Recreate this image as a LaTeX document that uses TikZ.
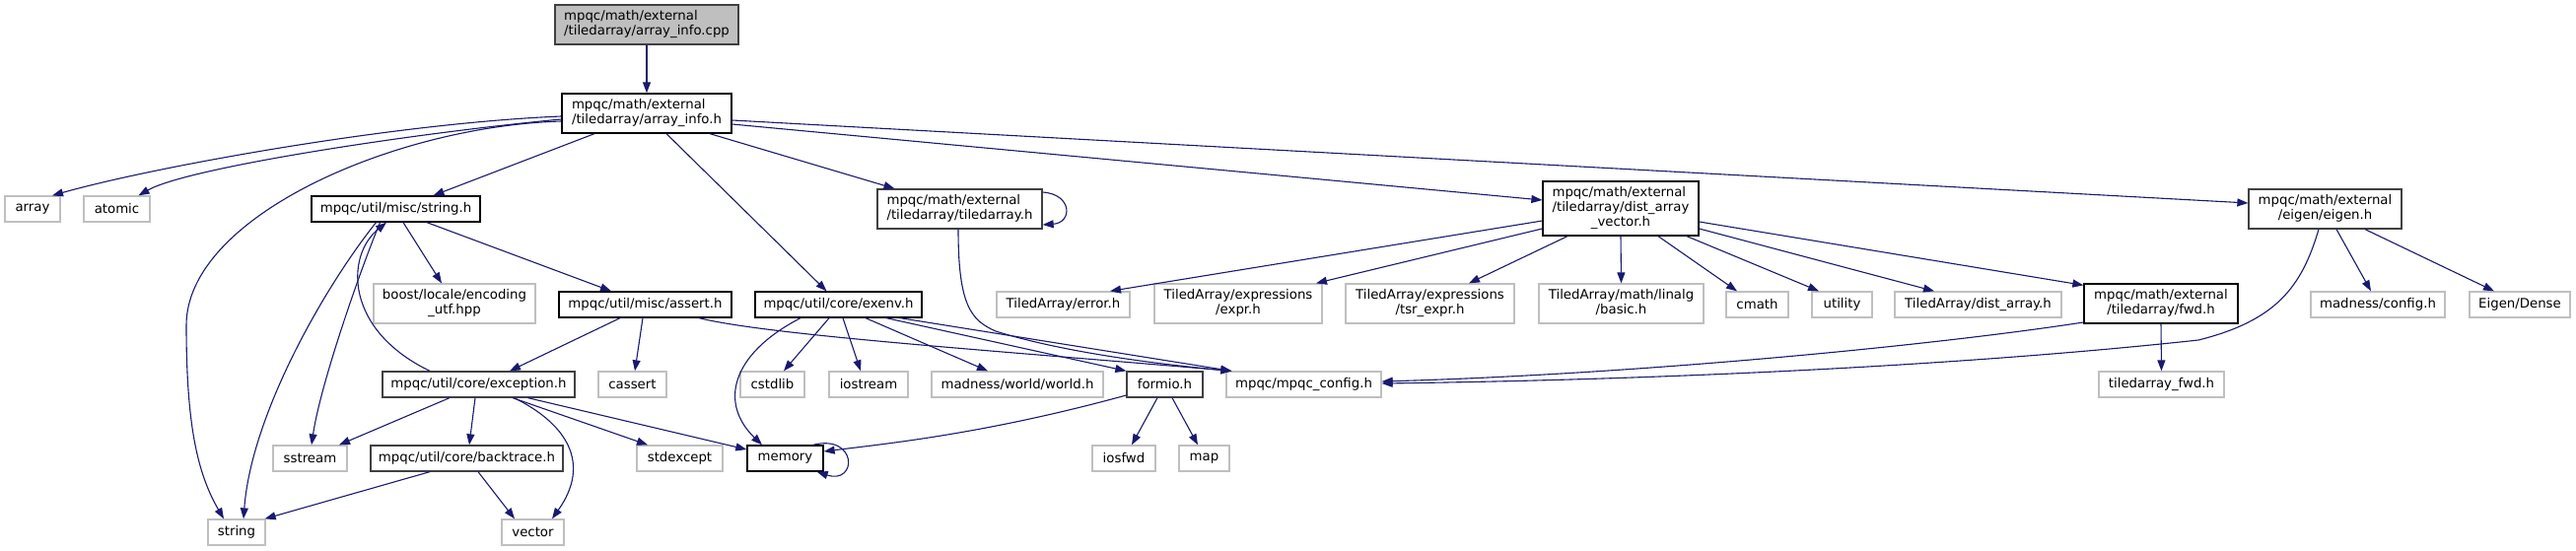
\documentclass[tikz,border=0pt]{standalone}
\usepackage{fontspec}
\setmainfont{DejaVu Sans}
\usetikzlibrary{arrows.meta}
\definecolor{edgec}{HTML}{191970}
\definecolor{lgray}{HTML}{BFBFBF}
\definecolor{dgray}{HTML}{404040}
\newcommand{\twol}[2]{\begin{tabular}{@{}l@{}}#1\\\multicolumn{1}{@{}c@{}}{#2}\end{tabular}}
\newcommand{\threel}[3]{\begin{tabular}{@{}l@{}}#1\\#2\\\multicolumn{1}{@{}c@{}}{#3}\end{tabular}}
\begin{document}
\begin{tikzpicture}[x=1pt,y=-1pt,
  nbase/.style={rectangle, inner sep=0pt, line width=1.3pt, font=\fontsize{13.3}{15}\selectfont},
  nblack/.style={nbase, draw=black, fill=white},
  ngray/.style={nbase, draw=lgray, fill=white},
  ndark/.style={nbase, draw=dgray, fill=white},
  nroot/.style={nbase, draw=dgray, fill=lgray},
  hone/.style={minimum height=26pt},
  htwo/.style={minimum height=40pt},
  hthree/.style={minimum height=55pt},
  edg/.style={draw=edgec, color=edgec, line width=1.1pt, -{Triangle[length=11pt,width=8pt]}},
]
\useasboundingbox[fill=white] (0,0) rectangle (2613,559);
% rank 0,1
\node[nroot,htwo,minimum width=186pt] (cpp) at (656,25) {\twol{mpqc/math/external}{/tiledarray/array\_info.cpp}};
\node[nblack,htwo,minimum width=172pt] (ai) at (656,115) {\twol{mpqc/math/external}{/tiledarray/array\_info.h}};
% rank 2
\node[ngray,hone,minimum width=56pt] (array) at (33,212) {array};
\node[ngray,hone,minimum width=67pt] (atomic) at (118.5,212) {atomic};
\node[nblack,hone,minimum width=171pt] (strh) at (401.5,212) {mpqc/util/misc/string.h};
\node[ndark,htwo,minimum width=167pt] (tda) at (973.5,212) {\twol{mpqc/math/external}{/tiledarray/tiledarray.h}};
\node[nblack,hthree,minimum width=158pt] (dav) at (1644,211.5) {\threel{mpqc/math/external}{/tiledarray/dist\_array}{\_vector.h}};
\node[ndark,htwo,minimum width=155pt] (eig) at (2358.5,212) {\twol{mpqc/math/external}{/eigen/eigen.h}};
% rank 3
\node[ngray,htwo,minimum width=164pt] (boost) at (461,308) {\twol{boost/locale/encoding}{\_utf.hpp}};
\node[nblack,hone,minimum width=175pt] (assert) at (654.5,309) {mpqc/util/misc/assert.h};
\node[nblack,hone,minimum width=169pt] (exenv) at (850.5,309) {mpqc/util/core/exenv.h};
\node[ngray,hone,minimum width=135pt] (terr) at (1078.5,309) {TiledArray/error.h};
\node[ngray,htwo,minimum width=170pt] (expr) at (1256,308) {\twol{TiledArray/expressions}{/expr.h}};
\node[ngray,htwo,minimum width=171pt] (tsr) at (1450.5,308) {\twol{TiledArray/expressions}{/tsr\_expr.h}};
\node[ngray,htwo,minimum width=167pt] (basic) at (1644.5,308) {\twol{TiledArray/math/linalg}{/basic.h}};
\node[ngray,hone,minimum width=63pt] (cmath) at (1782.5,309) {cmath};
\node[ngray,hone,minimum width=61pt] (utility) at (1868.5,309) {utility};
\node[ngray,hone,minimum width=169pt] (distarr) at (2006.5,309) {TiledArray/dist\_array.h};
\node[nblack,htwo,minimum width=156pt] (fwd) at (2192,308) {\twol{mpqc/math/external}{/tiledarray/fwd.h}};
\node[ngray,hone,minimum width=136pt] (mconf) at (2412,309) {madness/config.h};
\node[ngray,hone,minimum width=102pt] (edense) at (2556,309) {Eigen/Dense};
% rank 4
\node[ndark,hone,minimum width=195pt] (exc) at (485.5,390) {mpqc/util/core/exception.h};
\node[ngray,hone,minimum width=69pt] (cassert) at (641.5,390) {cassert};
\node[ngray,hone,minimum width=65pt] (cstdlib) at (783.5,390) {cstdlib};
\node[ngray,hone,minimum width=80pt] (iostream) at (881,390) {iostream};
\node[ngray,hone,minimum width=174pt] (world) at (1032,390) {madness/world/world.h};
\node[ndark,hone,minimum width=77pt] (formio) at (1181.5,390) {formio.h};
\node[ngray,hone,minimum width=157pt] (mpqcconf) at (1322.5,390) {mpqc/mpqc\_config.h};
\node[ngray,hone,minimum width=127pt] (tfwd) at (2192.5,390) {tiledarray\_fwd.h};
% rank 5
\node[ngray,hone,minimum width=75pt] (sstream) at (314.5,465) {sstream};
\node[ndark,hone,minimum width=195pt] (bt) at (473.5,465) {mpqc/util/core/backtrace.h};
\node[ngray,hone,minimum width=87pt] (stdexcept) at (689.5,465) {stdexcept};
\node[nblack,hone,minimum width=77pt] (memory) at (796.5,465) {memory};
\node[ngray,hone,minimum width=64pt] (iosfwd) at (1140,465) {iosfwd};
\node[ngray,hone,minimum width=51pt] (map) at (1221.5,465) {map};
% rank 6
\node[ngray,hone,minimum width=58pt] (string) at (240,540) {string};
\node[ngray,hone,minimum width=63pt] (vector) at (540.5,540) {vector};

% edges
\draw[edg] (cpp.south) -- (ai.north);
\draw[edg] ([yshift=-3pt]ai.west) .. controls (400,125) and (157,169) .. ([xshift=20pt]array.north);
\draw[edg] ([yshift=-6pt]ai.west) .. controls (420,135) and (190,170) .. ([xshift=22pt]atomic.north);
\draw[edg] ([yshift=-8pt]ai.west) .. controls (400,128) and (189,220) .. (189,330) .. controls (189,430) and (200,480) .. ([xshift=-13pt]string.north);
\draw[edg] ([xshift=-53pt]ai.south) -- ([xshift=38pt]strh.north);
\draw[edg] ([xshift=20pt]ai.south) -- ([xshift=-12pt]exenv.north);
\draw[edg] ([xshift=64pt]ai.south) -- ([xshift=-66pt]tda.north);
\draw[edg] ([yshift=-11pt]ai.east) -- ([yshift=8.5pt]dav.west);
\draw[edg] ([yshift=-7pt]ai.east) -- ([yshift=6pt]eig.west);

\draw[edg] ([yshift=17pt]tda.east) .. controls (1088,197) and (1088,226) .. ([yshift=-16pt]tda.east);
\draw[edg] ([xshift=-1.5pt]tda.south) .. controls (972,310) and (985,325) .. (1010,336) .. controls (1080,358) and (1180,370) .. ([xshift=6pt]mpqcconf.north west);

\draw[edg] ([yshift=-12.5pt]dav.west) -- ([xshift=47.5pt]terr.north);
\draw[edg] ([yshift=-20.5pt]dav.west) -- ([xshift=79pt]expr.north);
\draw[edg] ([xshift=-54pt]dav.south) -- ([xshift=39.5pt]tsr.north);
\draw[edg] (dav.south) -- (basic.north);
\draw[edg] ([xshift=38pt]dav.south) -- ([xshift=-20.5pt]cmath.north);
\draw[edg] ([xshift=67pt]dav.south) -- ([xshift=-23.5pt]utility.north);
\draw[edg] ([yshift=-20.5pt]dav.east) -- ([xshift=-44.5pt]distarr.north);
\draw[edg] ([yshift=-13.5pt]dav.east) -- ([yshift=-2pt]fwd.north west);

\draw[edg] (fwd.south) -- (tfwd.north);
\draw[edg] ([yshift=-19pt]fwd.west) .. controls (1950,352) and (1650,380) .. ([yshift=3pt]mpqcconf.east);
\draw[edg] ([xshift=-6.5pt]eig.south) .. controls (2335,290) and (2310,325) .. (2230,345) .. controls (2000,370) and (1700,385) .. ([yshift=1pt]mpqcconf.east);
\draw[edg] ([xshift=11.5pt]eig.south) -- ([xshift=-7pt]mconf.north);
\draw[edg] ([xshift=40.5pt]eig.south) -- ([xshift=-26pt]edense.north);

\draw[edg] ([xshift=7.5pt]strh.south) -- ([xshift=-13pt]boost.north);
\draw[edg] ([xshift=31.5pt]strh.south) -- ([xshift=-34.5pt]assert.north);
\draw[edg] ([xshift=-16pt]strh.south) .. controls (365,275) and (325,390) .. ([xshift=1.5pt]sstream.north);
\draw[edg] ([xshift=-20pt]strh.south) .. controls (330,290) and (255,420) .. ([xshift=7pt]string.north);
\draw[edg] ([xshift=-49.5pt]exc.north) .. controls (350,335) and (350,260) .. ([xshift=-9.5pt]strh.south);

\draw[edg] ([xshift=-25.5pt]assert.south) -- ([xshift=31.5pt]exc.north);
\draw[edg] ([xshift=-2.5pt]assert.south) -- ([xshift=2.5pt]cassert.north);
\draw[edg] ([xshift=54.5pt]assert.south) .. controls (780,340) and (1000,355) .. ([xshift=6pt]mpqcconf.north west);

\draw[edg] ([xshift=-29.5pt]exc.south) -- ([xshift=29.5pt]sstream.north);
\draw[edg] ([xshift=-3.5pt]exc.south) -- ([xshift=2.5pt]bt.north);
\draw[edg] ([xshift=34.5pt]exc.south) -- ([xshift=-32.5pt]stdexcept.north);
\draw[edg] ([xshift=50pt]exc.south) -- ([yshift=9pt]memory.west);
\draw[edg] ([xshift=36pt]exc.south) .. controls (575,430) and (600,470) .. ([xshift=19.5pt]vector.north);

\draw[edg] ([xshift=-37.5pt]bt.south) -- ([xshift=-1pt]string.north east);
\draw[edg] ([xshift=11.5pt]bt.south) -- ([xshift=-18.5pt]vector.north);

\draw[edg] ([xshift=-38.5pt]exenv.south) .. controls (740,360) and (730,410) .. ([xshift=-23.5pt]memory.north);
\draw[edg] ([xshift=-9.5pt]exenv.south) -- ([xshift=11.5pt]cstdlib.north);
\draw[edg] ([xshift=4.5pt]exenv.south) -- ([xshift=-8pt]iostream.north);
\draw[edg] ([xshift=27.5pt]exenv.south) -- ([xshift=-30pt]world.north);
\draw[edg] ([xshift=48.5pt]exenv.south) -- (formio.north west);
\draw[edg] ([xshift=62.5pt]exenv.south) -- ([xshift=6pt]mpqcconf.north west);

\draw[edg] ([yshift=-11pt]formio.west) .. controls (1000,440) and (900,450) .. ([yshift=7pt]memory.east);
\draw[edg] ([xshift=-7.5pt]formio.south) -- ([xshift=8pt]iosfwd.north);
\draw[edg] ([xshift=7.5pt]formio.south) -- ([xshift=-6.5pt]map.north);
\draw[edg] ([xshift=-11pt]memory.north east) .. controls (870,440) and (870,492) .. ([xshift=-7pt]memory.south east);
\end{tikzpicture}
\end{document}
